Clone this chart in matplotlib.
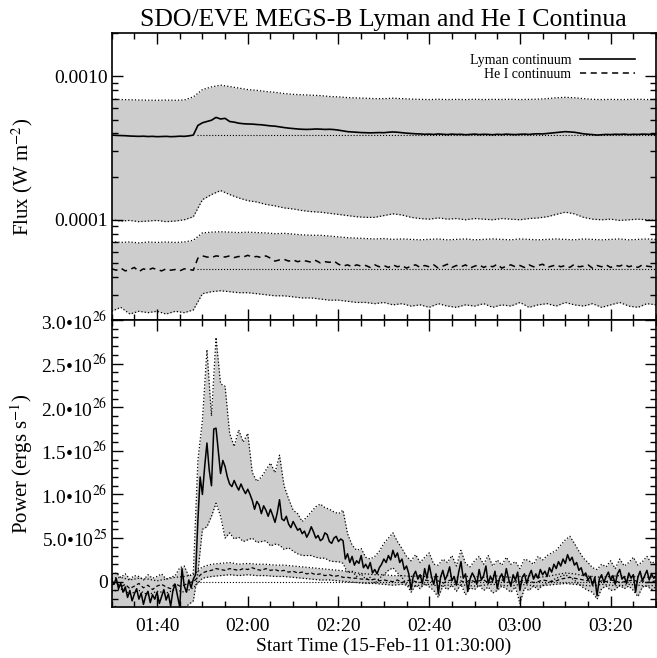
import numpy as np
import matplotlib
matplotlib.use("Agg")
import matplotlib.pyplot as plt
from matplotlib.ticker import FixedLocator, MultipleLocator, FuncFormatter, LogLocator, NullFormatter
from matplotlib.lines import Line2D

plt.rcParams['font.family'] = ['Liberation Serif', 'DejaVu Serif']
plt.rcParams['mathtext.fontset'] = 'stix'

# minutes after 01:30:00 on 15-Feb-11
flare_start = 18.7

# ---- upper panel: flux, 1-min cadence (Lyman in 1e-4 W m^-2, He I in 1e-5 W m^-2)
lyman_flux = [3.90, 3.88, 3.87, 3.86, 3.84, 3.83, 3.82, 3.83, 3.81, 3.82,
              3.80, 3.81, 3.82, 3.80, 3.81, 3.83, 3.82, 3.85, 3.90, 4.55,
              4.75, 4.85, 4.95, 5.18, 5.05, 5.10, 4.85, 4.80, 4.72, 4.68,
              4.66, 4.65, 4.62, 4.60, 4.56, 4.52, 4.50, 4.45, 4.40, 4.36,
              4.33, 4.30, 4.28, 4.27, 4.28, 4.30, 4.29, 4.27, 4.28, 4.26,
              4.22, 4.17, 4.12, 4.10, 4.08, 4.06, 4.05, 4.04, 4.05, 4.06,
              4.05, 4.08, 4.10, 4.08, 4.05, 4.02, 4.00, 3.98, 3.97, 3.95,
              3.96, 3.94, 3.97, 3.95, 3.93, 3.96, 3.94, 3.95, 3.92, 3.94,
              3.96, 3.93, 3.95, 3.94, 3.92, 3.95, 3.93, 3.96, 3.94, 3.93,
              3.95, 3.96, 3.94, 3.97, 3.98, 3.97, 4.00, 4.03, 4.06, 4.09,
              4.12, 4.10, 4.08, 4.03, 3.98, 3.95, 3.93, 3.90, 3.92, 3.94,
              3.93, 3.95, 3.94, 3.96, 3.93, 3.95, 3.94, 3.96, 3.95, 3.94, 3.95]
he_flux = [4.55, 4.45, 4.60, 4.40, 4.50, 4.65, 4.35, 4.55, 4.45, 4.60,
           4.50, 4.40, 4.55, 4.45, 4.50, 4.40, 4.55, 4.50, 4.45, 5.40,
           5.60, 5.50, 5.45, 5.60, 5.55, 5.50, 5.60, 5.45, 5.55, 5.50,
           5.65, 5.50, 5.55, 5.45, 5.60, 5.40, 5.15, 5.25, 5.30, 5.15,
           5.25, 5.10, 5.20, 5.15, 5.05, 5.20, 5.00, 5.10, 5.05, 5.15,
           4.90, 4.75, 4.85, 4.70, 4.85, 4.75, 4.80, 4.65, 4.85, 4.70,
           4.80, 4.65, 4.85, 4.70, 4.80, 4.60, 4.75, 4.85, 4.65, 4.80,
           4.70, 4.85, 4.60, 4.75, 4.90, 4.65, 4.80, 4.70, 4.85, 4.60,
           4.75, 4.85, 4.65, 4.80, 4.70, 4.90, 4.60, 4.75, 4.85, 4.70,
           4.80, 4.65, 4.85, 4.70, 4.80, 4.90, 4.65, 4.75, 4.85, 4.70,
           4.80, 4.65, 4.90, 4.70, 4.75, 4.85, 4.60, 4.80, 4.70, 4.85,
           4.65, 4.80, 4.75, 4.90, 4.70, 4.80, 4.65, 4.85, 4.75, 4.70, 4.80]
lyman_flux_base = 3.88
he_flux_base = 4.52

# error envelopes, 2-min cadence
lyman_flux_hi = [6.95, 6.90, 6.88, 6.85, 6.83, 6.82, 6.84, 6.82, 6.85, 7.20,
                 8.10, 8.45, 8.70, 8.50, 8.30, 8.10, 8.00, 7.85, 7.75, 7.60,
                 7.50, 7.45, 7.40, 7.35, 7.25, 7.20, 7.12, 7.08, 7.05, 7.00,
                 7.00, 7.05, 7.00, 6.95, 6.92, 6.90, 6.93, 6.90, 6.92, 6.90,
                 6.93, 6.90, 6.92, 6.91, 6.93, 6.90, 6.92, 6.94, 7.00, 7.10,
                 7.15, 7.10, 7.00, 6.92, 6.90, 6.92, 6.90, 6.91, 6.93, 6.90, 6.92]
lyman_flux_lo = [1.00, 0.98, 0.99, 0.97, 0.98, 0.99, 0.97, 0.98, 1.00, 1.05,
                 1.38, 1.50, 1.60, 1.50, 1.42, 1.36, 1.33, 1.28, 1.25, 1.21,
                 1.19, 1.16, 1.14, 1.13, 1.11, 1.09, 1.07, 1.05, 1.04, 1.04,
                 1.07, 1.10, 1.08, 1.04, 1.02, 1.01, 1.03, 1.01, 1.02, 1.00,
                 1.02, 1.01, 1.00, 1.02, 1.01, 1.00, 1.02, 1.03, 1.05, 1.09,
                 1.13, 1.10, 1.04, 1.01, 1.00, 1.01, 0.99, 1.00, 1.01, 1.00, 0.99]
he_flux_hi = [7.05, 6.95, 7.00, 6.90, 7.00, 6.95, 7.00, 6.95, 7.00, 7.20,
              8.10, 8.20, 8.25, 8.20, 8.15, 8.20, 8.15, 8.10, 8.00, 8.05,
              7.95, 7.85, 7.80, 7.80, 7.70, 7.60, 7.50, 7.45, 7.40, 7.35,
              7.40, 7.30, 7.35, 7.30, 7.25, 7.30, 7.35, 7.25, 7.30, 7.35,
              7.25, 7.30, 7.35, 7.30, 7.25, 7.35, 7.30, 7.25, 7.30, 7.35,
              7.30, 7.25, 7.35, 7.30, 7.25, 7.30, 7.35, 7.25, 7.30, 7.35, 7.30]
he_flux_lo = [2.30, 2.45, 2.20, 2.30, 2.25, 2.30, 2.20, 2.30, 2.25, 2.35,
              3.05, 3.15, 3.20, 3.15, 3.10, 3.10, 3.05, 3.00, 2.95, 2.95,
              2.90, 2.85, 2.85, 2.80, 2.75, 2.75, 2.70, 2.65, 2.65, 2.60,
              2.65, 2.55, 2.60, 2.50, 2.55, 2.45, 2.60, 2.50, 2.45, 2.55,
              2.50, 2.60, 2.45, 2.55, 2.50, 2.65, 2.45, 2.55, 2.60, 2.50,
              2.65, 2.55, 2.50, 2.60, 2.45, 2.55, 2.65, 2.50, 2.45, 2.60, 2.55]

# ---- lower panel: power in 1e25 erg/s
# Lyman, 30-s cadence
lyman_power = [0.2, -0.3, 0.4, -0.8, -0.2, -1.2, -0.6, -1.8, -1.0, -2.2,
               -1.4, -0.8, -2.0, -1.3, -2.6, -1.6, -1.1, -2.4, -1.5, -2.0,
               -1.2, -2.5, -1.7, -0.9, -2.1, -1.4, -2.8, -1.0, -0.3, -1.6,
               -2.9, 1.5, -0.5, -1.2, 0.2, -0.7, 0.3, 0.8,
               7.0, 12.0, 10.0, 13.2, 15.9, 12.8, 11.0, 17.5, 17.6, 15.0,
               12.4, 13.9, 13.2, 12.0, 11.2, 10.9, 11.6, 11.0, 10.5, 11.2,
               10.6, 10.1, 10.6,
               10.0, 9.3, 8.3, 9.2, 8.8, 7.8, 8.7, 8.2, 7.5, 8.3,
               7.6, 6.8, 7.9, 9.4, 7.2, 7.0, 7.5, 6.6, 6.2, 6.9,
               6.4, 5.9, 6.1, 5.5, 5.8, 5.1, 5.6, 6.3, 5.7, 5.0,
               5.3, 4.7, 4.9, 5.6, 5.4, 4.6, 4.4, 5.0, 5.2, 4.6,
               4.9, 4.7, 2.6, 3.2,
               2.2, 2.9, 1.9, 2.4, 2.1, 3.0, 1.6, 2.0, 1.5, 2.2,
               1.0, 1.4, 0.9, 1.6, 2.0, 2.6, 2.2, 3.0, 2.5, 3.6,
               2.8, 3.3, 2.2, 2.6, 1.4, 1.8,
               0.9, -0.9, 0.7, 1.2, 0.3, 0.8, -0.2, 1.5, 0.4, 1.9,
               0.6, -0.3, 0.9, -1.4, 0.5, 1.3, 0.2, 0.8, 1.7, 0.1,
               0.6, -0.4, 1.1, 2.3, 0.4, 0.9, -1.1, 0.3, 1.0, 0.5,
               -0.3, 1.4, 0.2, 0.7, 1.8, -0.2, 0.6, 0.1, 1.2, -0.8,
               0.4, 0.9, 0.0, 1.5, 0.3, -0.5, 0.8, 0.2, 1.1, -1.0,
               0.5, 0.9, -0.2, 0.7, 1.3, 0.3, 0.9, 0.4, 1.4, 0.8,
               1.2, 0.6, 1.6, 1.1, 2.0, 1.5, 2.3, 1.8, 2.6, 2.1,
               3.1, 2.4, 2.8, 1.9, 2.2, 1.3, 1.6, 0.7, 1.0, 0.2,
               0.6, -0.4, 0.5, -1.6, 0.3, 0.8, -0.1, 0.6, 1.1, 0.2,
               0.7, -0.3, 0.9, 1.4, 0.3, 0.6, -0.2, 1.0, 0.4, 0.8,
               -1.2, 0.5, 1.2, 0.1, 0.7, 1.3, 0.2, 0.9, 0.4, 0.6]
# Lyman envelopes, 1-min cadence
lyman_power_hi = [0.8, 1.0, 0.5, 0.9, 0.3, 0.7, 0.6, 0.2, 0.8, 0.4,
                  0.6, 0.9, 0.3, 0.5, 0.7, 1.6, 1.8, 0.6, 1.0,
                  13.9, 18.5, 26.6, 19.0, 28.0, 22.7, 22.4, 17.0, 15.5, 17.4, 16.0, 17.0,
                  12.5, 11.5, 12.0, 12.8, 13.6, 12.5, 14.5, 11.0, 9.5, 8.2,
                  7.8, 6.9, 7.4, 8.0, 8.6, 8.9, 8.5, 8.3, 8.0, 7.8,
                  8.2, 5.5, 4.2, 3.6, 3.8, 2.8, 2.6, 2.9, 3.5, 4.4,
                  5.0, 5.6, 4.6, 3.8, 2.9, 2.4, 3.1, 2.2, 2.8, 3.3,
                  2.0, 1.9, 2.6, 2.2, 3.0, 1.8, 3.6, 2.1, 1.7, 2.4,
                  2.9, 2.0, 3.0, 1.8, 2.5, 1.9, 2.8, 2.0, 2.3, 1.5,
                  2.6, 2.4, 2.0, 2.9, 2.5, 3.0, 3.3, 3.6, 4.2, 4.8,
                  5.2, 4.4, 3.5, 2.7, 2.2, 1.6, 1.4, 2.0, 1.7, 2.4,
                  1.5, 2.6, 1.8, 2.2, 2.8, 1.9, 2.3, 2.9, 2.1, 2.4]
lyman_power_lo = [-3.0, -2.8, -3.5, -3.2, -3.8, -3.0, -3.6, -3.3, -4.0, -3.5,
                  -3.2, -3.9, -3.4, -3.6, -3.1, -3.8, -3.0, -2.6, -2.2,
                  1.0, 6.0, 6.3, 7.5, 9.0, 7.5, 5.0, 5.6, 4.9, 5.1, 4.6, 4.8,
                  5.0, 4.5, 4.6, 4.7, 4.1, 4.3, 4.2, 3.7, 3.9, 3.5,
                  3.2, 3.0, 3.0, 3.0, 2.8, 2.7, 2.7, 2.4, 2.3, 2.3,
                  2.1, 1.0, 1.2, 0.6, 0.9, 0.3, 0.5, -0.2, 0.4, 0.8,
                  1.3, 1.6, 1.0, 0.5, -0.3, -1.2, -0.4, -0.8, -0.2, -0.6,
                  -1.0, -1.8, -0.5, -0.9, -0.4, -1.1, -0.3, -1.5, -0.7, -0.9,
                  -0.4, -1.0, -0.6, -1.3, -1.0, -0.5, -0.8, -1.2, -0.6, -2.5,
                  -0.7, -1.0, -0.5, -0.9, -0.4, -0.2, 0.1, 0.4, 0.6, 0.8,
                  0.5, 0.2, -0.3, -0.7, -1.0, -1.2, -2.0, -0.8, -0.5, -1.0,
                  -0.9, -0.4, -0.8, -0.5, -1.0, -1.7, -0.6, -0.5, -0.9, -0.6]
# He I, 1-min cadence
he_power = [-0.4, -0.1, -0.6, -0.3, -0.8, -0.5, -0.2, -0.7, -0.4, -0.9,
            -0.5, -0.3, -0.6, -0.8, -0.2, -0.5, -0.4, -0.1, 0.0,
            0.5, 1.0, 1.2, 1.3, 1.5, 1.4, 1.3, 1.5, 1.4, 1.3, 1.5, 1.4,
            1.6, 1.4, 1.3, 1.5, 1.3, 1.4, 1.2, 1.3, 1.1, 1.2,
            1.0, 1.1, 0.9, 1.0, 0.8, 0.9, 0.7, 0.8, 0.6, 0.7,
            0.5, 0.5, 0.4, 0.4, 0.3, 0.3, 0.2, 0.3, 0.1, 0.2,
            0.1, 0.0, 0.2, -0.1, 0.1, 0.2, 0.0, -0.1, 0.2, 0.1,
            0.0, 0.1, -0.2, 0.1, 0.2, 0.0, 0.1, -0.1, 0.2, 0.0,
            0.1, 0.2, -0.1, 0.0, 0.1, 0.2, 0.0, -0.1, 0.1, 0.0,
            0.2, 0.1, -0.1, 0.0, 0.2, 0.1, 0.0, 0.1, 0.3, 0.4,
            0.5, 0.4, 0.3, 0.2, 0.1, 0.0, -0.1, 0.1, 0.0, 0.2,
            0.1, -0.1, 0.0, 0.1, 0.2, 0.0, 0.1, -0.1, 0.0, 0.1]
# He I envelopes, 2-min cadence
he_power_hi = [0.4, 0.5, 0.2, 0.4, 0.3, 0.1, 0.3, 0.5, 0.6, 0.8,
               1.7, 2.0, 2.1, 2.2, 2.0, 2.1, 2.0, 2.0, 1.9, 1.9,
               1.8, 1.7, 1.6, 1.5, 1.4, 1.3, 1.2, 1.0, 0.9, 0.8,
               0.8, 0.7, 0.7, 0.6, 0.7, 0.5, 0.6, 0.7, 0.5, 0.6,
               0.6, 0.5, 0.7, 0.6, 0.5, 0.6, 0.7, 0.5, 0.6, 0.8,
               1.0, 0.9, 0.7, 0.6, 0.5, 0.6, 0.7, 0.5, 0.6, 0.5, 0.6]
he_power_lo = [-1.2, -0.8, -1.4, -1.0, -1.5, -1.1, -1.3, -0.9, -1.2, -0.7,
               0.4, 0.6, 0.7, 0.8, 0.7, 0.8, 0.7, 0.7, 0.6, 0.6,
               0.5, 0.4, 0.3, 0.2, 0.2, 0.1, 0.0, -0.1, -0.2, -0.2,
               -0.3, -0.4, -0.3, -0.5, -0.4, -0.3, -0.5, -0.4, -0.3, -0.4,
               -0.5, -0.4, -0.3, -0.4, -0.5, -0.3, -0.4, -0.5, -0.4, -0.3,
               -0.2, -0.3, -0.4, -0.5, -0.3, -0.4, -0.5, -0.3, -0.4, -0.5, -0.4]

t_30s = np.arange(0, 120.25, 0.5)
t_1m = np.arange(0, 121, 1.0)
t_2m = np.arange(0, 121, 2.0)

band = '#cdcdcd'
fig = plt.figure(figsize=(6.57, 6.58), dpi=100)
ax1 = fig.add_axes([0.170, 0.5137, 0.8285, 0.4357])
ax2 = fig.add_axes([0.170, 0.0775, 0.8285, 0.4362])

# upper panel
e4, e5 = 1e-4, 1e-5
ax1.fill_between(t_2m, np.array(lyman_flux_lo) * e4, np.array(lyman_flux_hi) * e4, color=band, lw=0)
ax1.fill_between(t_2m, np.array(he_flux_lo) * e5, np.array(he_flux_hi) * e5, color=band, lw=0)
for arr, sc in [(lyman_flux_lo, e4), (lyman_flux_hi, e4), (he_flux_lo, e5), (he_flux_hi, e5)]:
    ax1.plot(t_2m, np.array(arr) * sc, color='k', ls=':', lw=0.9)
ax1.hlines([lyman_flux_base * e4, he_flux_base * e5], flare_start, 120, colors='k', linestyles=':', lw=0.8)
ax1.plot(t_1m, np.array(lyman_flux) * e4, color='k', lw=1.2)
ax1.plot(t_1m, np.array(he_flux) * e5, color='k', lw=1.1, ls=(0, (4, 3)))
ax1.set_yscale('log')
ax1.set_ylim(2e-5, 2e-3)
ax1.yaxis.set_major_locator(FixedLocator([1e-4, 1e-3]))
ax1.yaxis.set_major_formatter(FuncFormatter(lambda v, p: '%.4f' % v))
ax1.yaxis.set_minor_locator(LogLocator(base=10, subs=np.arange(2, 10)))
ax1.yaxis.set_minor_formatter(NullFormatter())
ax1.set_ylabel('Flux (W m$^{-2}$)', fontsize=15)
ax1.set_title('SDO/EVE MEGS-B Lyman and He I Continua', fontsize=18.5, pad=5)
handles = [Line2D([], [], color='k', lw=1.2), Line2D([], [], color='k', lw=1.1, ls=(0, (4, 3)))]
ax1.legend(handles, ['Lyman continuum', 'He I continuum'], loc='upper right', frameon=False,
           markerfirst=False, fontsize=10, handlelength=4.0, labelspacing=0.05,
           borderaxespad=1.1, handletextpad=0.6)

# lower panel
e25 = 1e25
ax2.fill_between(t_1m, np.array(lyman_power_lo) * e25, np.array(lyman_power_hi) * e25, color=band, lw=0)
ax2.fill_between(t_2m, np.array(he_power_lo) * e25, np.array(he_power_hi) * e25, color=band, lw=0)
for tt, arr in [(t_1m, lyman_power_lo), (t_1m, lyman_power_hi), (t_2m, he_power_lo), (t_2m, he_power_hi)]:
    ax2.plot(tt, np.array(arr) * e25, color='k', ls=':', lw=0.9)
ax2.hlines(0, flare_start, 120, colors='k', linestyles=':', lw=0.8)
ax2.plot(t_1m, np.array(he_power) * e25, color='k', lw=0.9, ls=(0, (3, 2)))
ax2.plot(t_30s, np.array(lyman_power) * e25, color='k', lw=1.1)
ax2.set_ylim(-2.9e25, 3.0e26)
ax2.yaxis.set_major_locator(MultipleLocator(5e25))
ax2.yaxis.set_minor_locator(MultipleLocator(1e25))


def power_fmt(v, pos):
    if abs(v) < 1e20:
        return '0'
    exp = int(np.floor(np.log10(abs(v)) + 1e-9))
    return '%.1f\u2022' % (v / 10 ** exp) + '10$^{%d}$' % exp


ax2.yaxis.set_major_formatter(FuncFormatter(power_fmt))
ax2.set_ylabel('Power (ergs s$^{-1}$)', fontsize=15)
ax2.set_xlabel('Start Time (15-Feb-11 01:30:00)', fontsize=14, labelpad=2)

for ax in (ax1, ax2):
    ax.set_xlim(0, 120)
    ax.xaxis.set_major_locator(FixedLocator(np.arange(10, 121, 20)))
    ax.xaxis.set_minor_locator(MultipleLocator(5))
    ax.tick_params(which='both', direction='in', top=True, right=True, width=1.0, labelsize=14)
    ax.tick_params(which='major', length=8)
    ax.tick_params(which='minor', length=4)
    ax.tick_params(axis='y', pad=3)
    ax.tick_params(axis='x', pad=8)
    for s in ax.spines.values():
        s.set_linewidth(1.2)
    ax.yaxis.set_label_coords(-0.14, 0.5)

ax1.tick_params(labelbottom=False)
ax2.xaxis.set_major_formatter(FuncFormatter(
    lambda m, p: '%02d:%02d' % ((90 + int(round(m))) // 60, (90 + int(round(m))) % 60)))

fig.savefig('out.png', dpi=100)
